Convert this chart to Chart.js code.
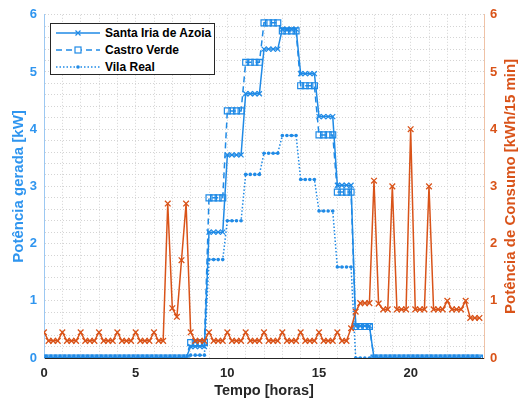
<!DOCTYPE html>
<html>
<head>
<meta charset="utf-8">
<script src="https://cdn.jsdelivr.net/npm/chart.js@4.4.1/dist/chart.umd.min.js"></script>
<style>
  html, body { margin: 0; padding: 0; background: #fff; }
  #wrap { position: relative; width: 519px; height: 405px; }
  #legenda {
    position: absolute; left: 50px; top: 23px; width: 165px; height: 52px;
    border: 1px solid #262626; background: #fff;
    font: bold 12px "Liberation Sans", Arial, sans-serif; color: #000;
    box-sizing: border-box; padding-top: 1px; white-space: nowrap;
  }
  #legenda .row { height: 16.7px; display: flex; align-items: center; }
  #legenda svg { margin-left: 5px; margin-right: 5px; flex: none; }
</style>
</head>
<body>
<div id="wrap">
  <canvas id="grafico" width="519" height="405"></canvas>
  <div id="legenda"></div>
</div>
<script>
// tempo (horas), um ponto a cada 15 min
const tempo = [
  0, 0.25, 0.5, 0.75, 1, 1.25, 1.5, 1.75, 2, 2.25, 2.5, 2.75,
  3, 3.25, 3.5, 3.75, 4, 4.25, 4.5, 4.75, 5, 5.25, 5.5, 5.75,
  6, 6.25, 6.5, 6.75, 7, 7.25, 7.5, 7.75, 8, 8.25, 8.5, 8.75,
  9, 9.25, 9.5, 9.75, 10, 10.25, 10.5, 10.75, 11, 11.25, 11.5, 11.75,
  12, 12.25, 12.5, 12.75, 13, 13.25, 13.5, 13.75, 14, 14.25, 14.5, 14.75,
  15, 15.25, 15.5, 15.75, 16, 16.25, 16.5, 16.75, 17, 17.25, 17.5, 17.75,
  18, 18.25, 18.5, 18.75, 19, 19.25, 19.5, 19.75, 20, 20.25, 20.5, 20.75,
  21, 21.25, 21.5, 21.75, 22, 22.25, 22.5, 22.75, 23, 23.25, 23.5, 23.75
];

// potência gerada [kW]
const santaIria = [
  0, 0, 0, 0, 0, 0, 0, 0, 0, 0, 0, 0,
  0, 0, 0, 0, 0, 0, 0, 0, 0, 0, 0, 0,
  0, 0, 0, 0, 0, 0, 0, 0, 0.2, 0.2, 0.2, 0.2,
  2.2, 2.2, 2.2, 2.2, 3.55, 3.55, 3.55, 3.55, 4.62, 4.62, 4.62, 4.62,
  5.4, 5.4, 5.4, 5.4, 5.75, 5.75, 5.75, 5.75, 4.97, 4.97, 4.97, 4.97,
  4.22, 4.22, 4.22, 4.22, 3.02, 3.02, 3.02, 3.02, 0.56, 0.56, 0.56, 0.56,
  0, 0, 0, 0, 0, 0, 0, 0, 0, 0, 0, 0,
  0, 0, 0, 0, 0, 0, 0, 0, 0, 0, 0, 0
];
const castroVerde = [
  0, 0, 0, 0, 0, 0, 0, 0, 0, 0, 0, 0,
  0, 0, 0, 0, 0, 0, 0, 0, 0, 0, 0, 0,
  0, 0, 0, 0, 0, 0, 0, 0, 0.27, 0.27, 0.27, 0.27,
  2.8, 2.8, 2.8, 2.8, 4.32, 4.32, 4.32, 4.32, 5.17, 5.17, 5.17, 5.17,
  5.86, 5.86, 5.86, 5.86, 5.72, 5.72, 5.72, 5.72, 4.76, 4.76, 4.76, 4.76,
  3.9, 3.9, 3.9, 3.9, 2.9, 2.9, 2.9, 2.9, 0.55, 0.55, 0.55, 0.55,
  0, 0, 0, 0, 0, 0, 0, 0, 0, 0, 0, 0,
  0, 0, 0, 0, 0, 0, 0, 0, 0, 0, 0, 0
];
const vilaReal = [
  0, 0, 0, 0, 0, 0, 0, 0, 0, 0, 0, 0,
  0, 0, 0, 0, 0, 0, 0, 0, 0, 0, 0, 0,
  0, 0, 0, 0, 0, 0, 0, 0, 0.05, 0.05, 0.05, 0.05,
  1.72, 1.72, 1.72, 1.72, 2.4, 2.4, 2.4, 2.4, 3.21, 3.21, 3.21, 3.21,
  3.58, 3.58, 3.58, 3.58, 3.89, 3.89, 3.89, 3.89, 3.12, 3.12, 3.12, 3.12,
  2.57, 2.57, 2.57, 2.57, 1.59, 1.59, 1.59, 1.59, 0, 0, 0, 0,
  0, 0, 0, 0, 0, 0, 0, 0, 0, 0, 0, 0,
  0, 0, 0, 0, 0, 0, 0, 0, 0, 0, 0, 0
];

// potência de consumo [kWh/15 min]
const consumo = [
  0.45, 0.3, 0.3, 0.3, 0.45, 0.3, 0.3, 0.3, 0.45, 0.3, 0.3, 0.3,
  0.45, 0.3, 0.3, 0.3, 0.45, 0.3, 0.3, 0.3, 0.45, 0.3, 0.3, 0.3,
  0.45, 0.3, 0.3, 2.7, 0.87, 0.72, 1.71, 2.7, 0.45, 0.3, 0.3, 0.3,
  0.45, 0.3, 0.3, 0.3, 0.45, 0.3, 0.3, 0.3, 0.45, 0.3, 0.3, 0.3,
  0.45, 0.3, 0.3, 0.3, 0.45, 0.3, 0.3, 0.3, 0.45, 0.3, 0.3, 0.3,
  0.45, 0.3, 0.3, 0.3, 0.45, 0.3, 0.3, 0.52, 0.81, 0.96, 0.96, 0.96,
  3.1, 0.95, 0.85, 0.85, 3.0, 0.85, 0.85, 0.85, 4.0, 0.85, 0.85, 0.85,
  3.0, 0.85, 0.85, 0.85, 1.0, 0.85, 0.85, 0.85, 1.0, 0.7, 0.7, 0.7
];

const nomes = ['Santa Iria de Azoia', 'Castro Verde', 'Vila Real'];

const AZUL = '#1f8ae6';
const AZUL_TXT = '#2f95ef';
const LARANJA = '#D95319';
const FONTE = '"Liberation Sans", Arial, sans-serif';

function pontos(valores) {
  return tempo.map((t, i) => ({ x: t, y: valores[i] }));
}

function inteiro(v) {
  return Math.abs(v - Math.round(v)) < 1e-6;
}

// título do eixo direito (lido de baixo para cima)
const tituloDireito = {
  id: 'tituloDireito',
  afterDraw(chart) {
    const { ctx, chartArea } = chart;
    ctx.save();
    ctx.translate(511, (chartArea.top + chartArea.bottom) / 2);
    ctx.rotate(-Math.PI / 2);
    ctx.font = 'bold 15px ' + FONTE;
    ctx.fillStyle = LARANJA;
    ctx.textAlign = 'center';
    ctx.textBaseline = 'middle';
    ctx.fillText('Potência de Consumo [kWh/15 min]', 0, 0);
    ctx.restore();
  }
};

const gradeCor = '#d4d4d4';

const chart = new Chart(document.getElementById('grafico'), {
  type: 'line',
  data: {
    datasets: [
      {
        label: 'Consumo',
        data: pontos(consumo),
        yAxisID: 'y2',
        borderColor: LARANJA,
        borderWidth: 1.5,
        pointStyle: 'crossRot',
        pointRadius: 4,
        pointBorderWidth: 1.3,
        pointBorderColor: LARANJA,
        order: 0
      },
      {
        label: nomes[0],
        data: pontos(santaIria),
        yAxisID: 'y',
        borderColor: AZUL,
        borderWidth: 1.5,
        pointStyle: 'crossRot',
        pointRadius: 3.5,
        pointBorderWidth: 1.2,
        pointBorderColor: AZUL,
        order: 1
      },
      {
        label: nomes[1],
        data: pontos(castroVerde),
        yAxisID: 'y',
        borderColor: AZUL,
        borderWidth: 1.5,
        borderDash: [6, 4],
        pointStyle: 'rect',
        pointRadius: 4.2,
        pointBorderWidth: 1.2,
        pointBorderColor: AZUL,
        pointBackgroundColor: 'rgba(255,255,255,0)',
        order: 2
      },
      {
        label: nomes[2],
        data: pontos(vilaReal),
        yAxisID: 'y',
        borderColor: AZUL,
        borderWidth: 1.5,
        borderDash: [1.5, 2],
        pointStyle: 'circle',
        pointRadius: 1.8,
        pointBorderWidth: 0,
        pointBackgroundColor: AZUL,
        order: 3
      }
    ]
  },
  options: {
    responsive: false,
    animation: false,
    events: [],
    layout: { padding: { top: 14, left: 0, right: 0, bottom: 0 } },
    plugins: { legend: { display: false }, tooltip: { enabled: false } },
    elements: { line: { tension: 0, fill: false } },
    scales: {
      x: {
        type: 'linear',
        min: 0,
        max: 24,
        afterFit: (s) => { s.height = 47; },
        grid: { color: gradeCor, lineWidth: 1, drawTicks: false },
        border: { color: '#262626', width: 1, dash: [1, 2] },
        ticks: {
          stepSize: 1,
          autoSkip: false,
          maxRotation: 0,
          padding: 8,
          color: '#262626',
          font: { family: FONTE, size: 13, weight: 'bold' },
          callback: (v) => (v % 5 === 0 ? v : '')
        },
        title: {
          display: true,
          text: 'Tempo [horas]',
          color: '#262626',
          font: { family: FONTE, size: 14.5, weight: 'bold' },
          padding: { top: 0, bottom: 5 }
        }
      },
      y: {
        position: 'left',
        min: 0,
        max: 6,
        afterFit: (s) => { s.width = 44; },
        grid: { color: gradeCor, lineWidth: 1, drawTicks: false },
        border: { color: '#9cc8f2', width: 1, dash: [1, 2] },
        ticks: {
          stepSize: 0.2,
          maxTicksLimit: 100,
          autoSkip: false,
          padding: 7,
          color: AZUL_TXT,
          font: { family: FONTE, size: 13, weight: 'bold' },
          callback: (v) => (inteiro(v) ? Math.round(v) : '')
        },
        title: {
          display: true,
          text: 'Potência gerada [kW]',
          color: AZUL_TXT,
          font: { family: FONTE, size: 15, weight: 'bold' },
          padding: { top: 10, bottom: 0 }
        }
      },
      y2: {
        position: 'right',
        min: 0,
        max: 6,
        afterFit: (s) => { s.width = 35; },
        grid: { display: false, drawTicks: false },
        border: { color: '#efc2a6', width: 1 },
        ticks: {
          stepSize: 1,
          padding: 6,
          color: LARANJA,
          font: { family: FONTE, size: 13, weight: 'bold' }
        }
      }
    }
  },
  plugins: [tituloDireito]
});

// legenda com amostra de linha + marcador
const amostras = [
  '<line x1="0" y1="6" x2="44" y2="6" stroke="' + AZUL + '" stroke-width="1.5"/>' +
  '<path d="M19.5 3.5 L24.5 8.5 M24.5 3.5 L19.5 8.5" stroke="' + AZUL + '" stroke-width="1.2"/>',
  '<line x1="0" y1="6" x2="44" y2="6" stroke="' + AZUL + '" stroke-width="1.5" stroke-dasharray="6 4"/>' +
  '<rect x="19" y="3" width="6" height="6" fill="#fff" stroke="' + AZUL + '" stroke-width="1.2"/>',
  '<line x1="0" y1="6" x2="44" y2="6" stroke="' + AZUL + '" stroke-width="1.5" stroke-dasharray="1.5 2"/>' +
  '<circle cx="22" cy="6" r="1.8" fill="' + AZUL + '"/>'
];
document.getElementById('legenda').innerHTML = nomes.map((n, i) =>
  '<div class="row"><svg width="44" height="12">' + amostras[i] + '</svg><span>' + n + '</span></div>'
).join('');
</script>
</body>
</html>
